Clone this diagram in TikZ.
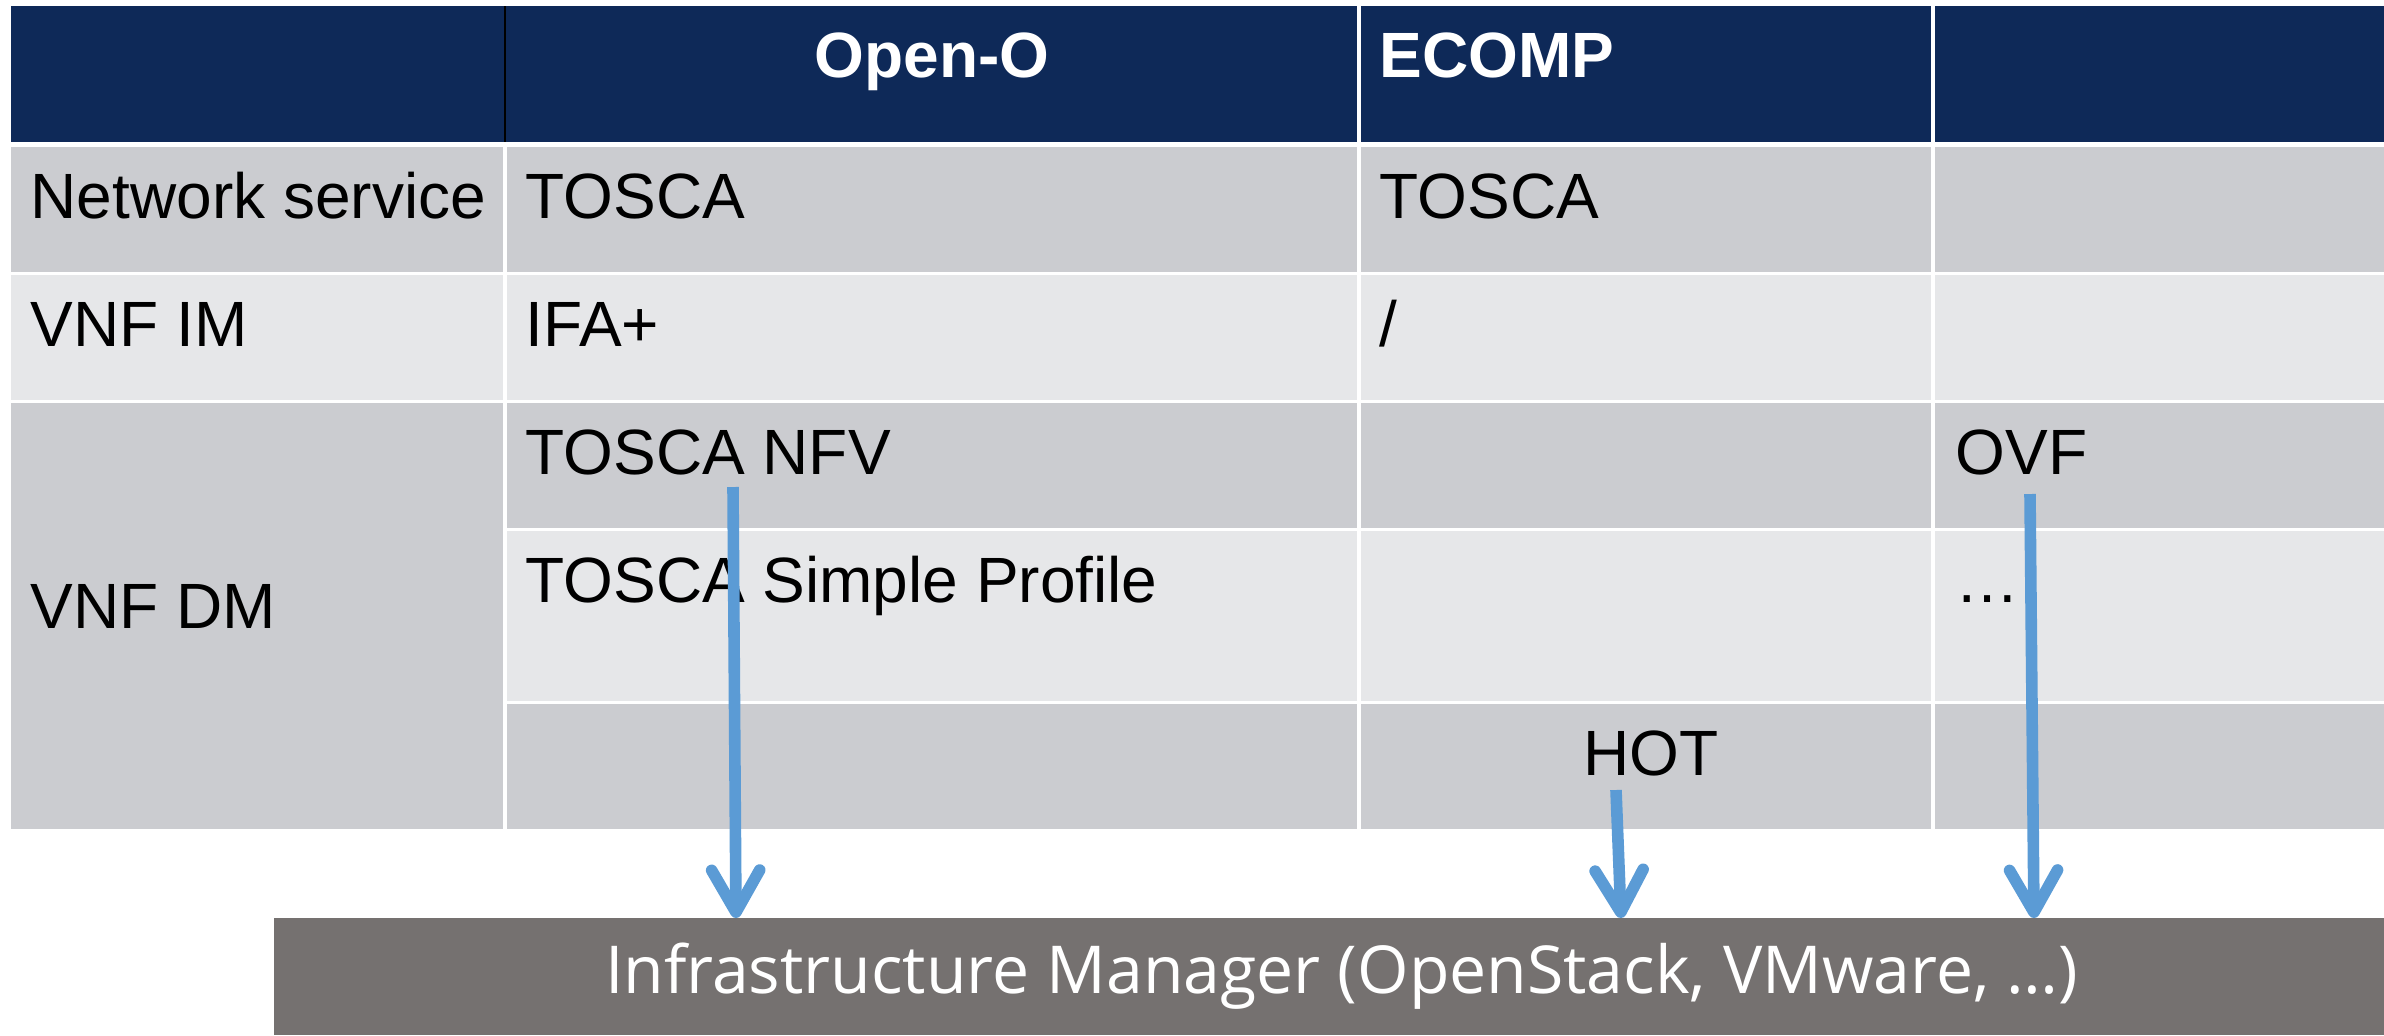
\documentclass[tikz,border=0pt]{standalone}
\usepackage{fontspec}
\setmainfont{Liberation Sans}
\newfontfamily\barfont{Open Sans}
\usetikzlibrary{arrows.meta,positioning}

\definecolor{hdnavy}{RGB}{14,41,88}
\definecolor{rowdark}{RGB}{203,204,208}
\definecolor{rowlight}{RGB}{230,231,233}
\definecolor{bargray}{RGB}{117,113,112}
\definecolor{flowblue}{RGB}{91,155,213}

\tikzset{
	txt/.style={anchor=base west, inner sep=0pt, font=\fontsize{18.2}{21}\selectfont},
	hd/.style={txt, text=white, font=\fontsize{18.2}{21}\selectfont\bfseries},
	gridline/.style={white, line width=0.9pt},
	imbar/.style={fill=bargray, text=white, inner sep=0pt, minimum width=21.33cm, minimum height=1.17cm, font=\barfont\fontsize{18.8}{22}\selectfont},
	flow/.style={draw=flowblue, line width=3.3pt, -{Straight Barb[length=4.2mm,width=4.8mm,round]}}
}

\begin{document}
\begin{tikzpicture}[x=0.01cm, y=-0.01cm]
		\useasboundingbox (0,0) rectangle (2384,1035);
		
		% Header row
		\fill[hdnavy] (11,6) rectangle (2384,142);
		\draw[black, line width=0.6pt] (505,6) -- (505,142);
		\draw[gridline] (1359,6) -- (1359,142);
		\draw[gridline] (1933,6) -- (1933,142);
		\node[hd, anchor=base] (hdopen) at (932,77) {Open-O};
		\node[hd] (hdecomp) at (1379,77) {ECOMP};
		
		% Row bands
		\fill[rowdark] (11,147) rectangle (2384,272);
		\fill[rowlight] (11,275) rectangle (2384,400);
		\fill[rowdark] (11,403) rectangle (2384,528);
		\fill[rowlight] (11,531) rectangle (2384,701);
		\fill[rowdark] (11,704) rectangle (2384,829);
		% VNF DM spans three rows
		\fill[rowdark] (11,403) rectangle (505,829);
		
		% Column lines
		\foreach \x in {505,1359,1933}
			\draw[gridline] (\x,147) -- (\x,829);
		
		% Network service
		\node[txt] (ns) at (30,218) {Network service};
		\node[txt] (nsopen) at (525,218) {TOSCA};
		\node[txt] (nsecomp) at (1379,218) {TOSCA};
		
		% VNF IM
		\node[txt] (im) at (30,346) {VNF IM};
		\node[txt] (imopen) at (525,346) {IFA+};
		\node[txt] (imecomp) at (1379,346) {/};
		
		% VNF DM
		\node[txt] (dm) at (30,628) {VNF DM};
		\node[txt] (nfv) at (525,474) {TOSCA NFV};
		\node[txt] (ovf) at (1955,474) {OVF};
		\node[txt] (simple) at (525,602) {TOSCA Simple Profile};
		\node[txt] (more) at (1955,602) {…};
		\node[txt] (hot) at (1583,775) {HOT};
		
		% Infrastructure manager bar (runs off the right edge)
		\node[imbar] (vim) at (1341.5,976.5) {Infrastructure Manager (OpenStack, VMware, …)};
		
		% Draw arrows
		\coordinate (nfvs) at (733,487);
		\coordinate (nfve) at (736,918);
		\coordinate (hots) at (1616,790);
		\coordinate (hote) at (1621,918);
		\coordinate (ovfs) at (2030,494);
		\coordinate (ovfe) at (2034,918);
		\draw[flow] (nfvs) -- (nfve);
		\draw[flow] (hots) -- (hote);
		\draw[flow] (ovfs) -- (ovfe);
		
\end{tikzpicture}
\end{document}
